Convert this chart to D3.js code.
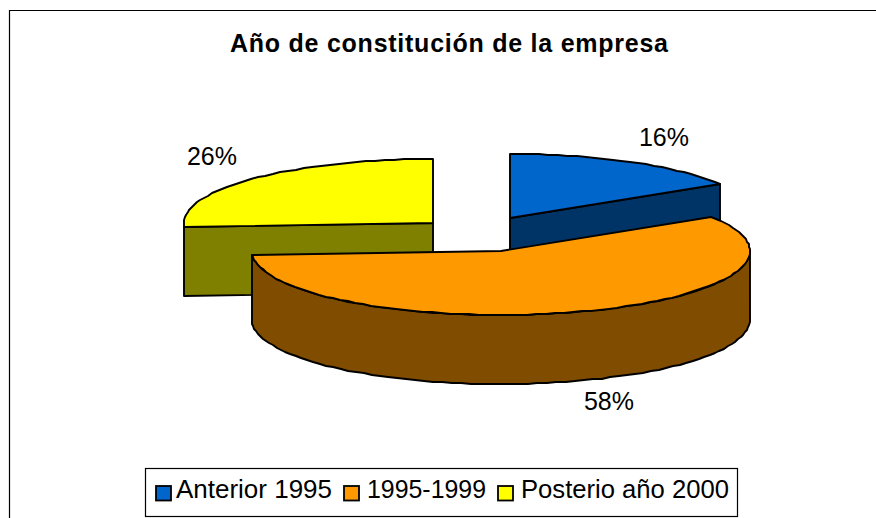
<!DOCTYPE html>
<html><head><meta charset="utf-8">
<script src="https://cdn.jsdelivr.net/npm/d3@7/dist/d3.min.js"></script>
<style>html,body{margin:0;padding:0;background:#fff}svg{display:block}text{font-family:"Liberation Sans",Arial,sans-serif;fill:#000}</style>
</head><body><svg id="c" width="876" height="518"></svg>
<script>
const categories = ["Anterior 1995", "1995-1999", "Posterio año 2000"];
const values = [16, 58, 26];
const labels = ["16%", "58%", "26%"];
const topColors = ["#0066cc", "#ff9900", "#ffff00"];
const sideColors = ["#003366", "#804c00", "#808000"];
const centers = [[510, 218], [501, 251], [433, 223]];
const labelPos = [[664, 146], [609, 410], [212, 165]];
const RX = 249, RY = 64, DEPTH = 69;

const svg = d3.select("#c");
svg.append("path").attr("d", "M9.5,518V10.5H876").attr("fill", "none").attr("stroke", "#000").attr("stroke-width", 1.2);

const arcs = d3.pie().sort(null).value(d => d).startAngle(0).endAngle(2 * Math.PI)(values);
const line = d3.line();
const pt = (i, a, dz = 0) => [
  Math.round(centers[i][0] + RX * Math.sin(a)),
  Math.round(centers[i][1] - RY * Math.cos(a) + dz)
];
const samples = (a0, a1) => {
  const n = Math.max(6, Math.round((a1 - a0) * 26));
  return d3.range(0, n + 1).map(k => a0 + (a1 - a0) * k / n);
};

function topFace(i) {
  const a = arcs[i];
  return line([centers[i], ...samples(a.startAngle, a.endAngle).map(t => pt(i, t))]) + "Z";
}
function wall(i, a0) {
  const p = pt(i, a0), c = centers[i];
  return line([c, p, [p[0], p[1] + DEPTH], [c[0], c[1] + DEPTH]]) + "Z";
}
function rim(i) {
  const a0 = Math.max(arcs[i].startAngle, Math.PI / 2), a1 = Math.min(arcs[i].endAngle, 3 * Math.PI / 2);
  const s = samples(a0, a1);
  return line([...s.map(t => pt(i, t)), ...s.slice().reverse().map(t => pt(i, t, DEPTH))]) + "Z";
}
const draw = (d, fill) => svg.append("path").attr("d", d).attr("fill", fill)
  .attr("stroke", "#000").attr("stroke-width", 1.9).attr("stroke-linejoin", "round");

// yellow and blue stand behind the orange slice
draw(wall(2, arcs[2].startAngle), sideColors[2]);
draw(topFace(2), topColors[2]);
draw(wall(0, arcs[0].endAngle), sideColors[0]);
draw(topFace(0), topColors[0]);
draw(rim(1), sideColors[1]);
draw(topFace(1), topColors[1]);

svg.append("text").attr("x", 449).attr("y", 52).attr("text-anchor", "middle")
  .attr("font-size", 25).attr("font-weight", "bold").attr("textLength", 438).attr("lengthAdjust", "spacing")
  .text("Año de constitución de la empresa");

svg.selectAll("text.pct").data(labels).join("text").attr("class", "pct")
  .attr("x", (d, i) => labelPos[i][0]).attr("y", (d, i) => labelPos[i][1])
  .attr("text-anchor", "middle").attr("font-size", 25).text(d => d);

svg.append("rect").attr("x", 145.5).attr("y", 468.5).attr("width", 592).attr("height", 48)
  .attr("fill", "#fff").attr("stroke", "#000").attr("stroke-width", 1.2);
const legendX = [156, 344, 498], textX = [176, 367, 521], textW = [156, 119, 208];
categories.forEach((c, i) => {
  svg.append("rect").attr("x", legendX[i]).attr("y", 486).attr("width", 15).attr("height", 14.5)
    .attr("fill", topColors[i]).attr("stroke", "#000").attr("stroke-width", 1.8);
  svg.append("text").attr("x", textX[i]).attr("y", 497.5).attr("font-size", 25)
    .attr("textLength", textW[i]).attr("lengthAdjust", "spacingAndGlyphs").text(c);
});
</script></body></html>
